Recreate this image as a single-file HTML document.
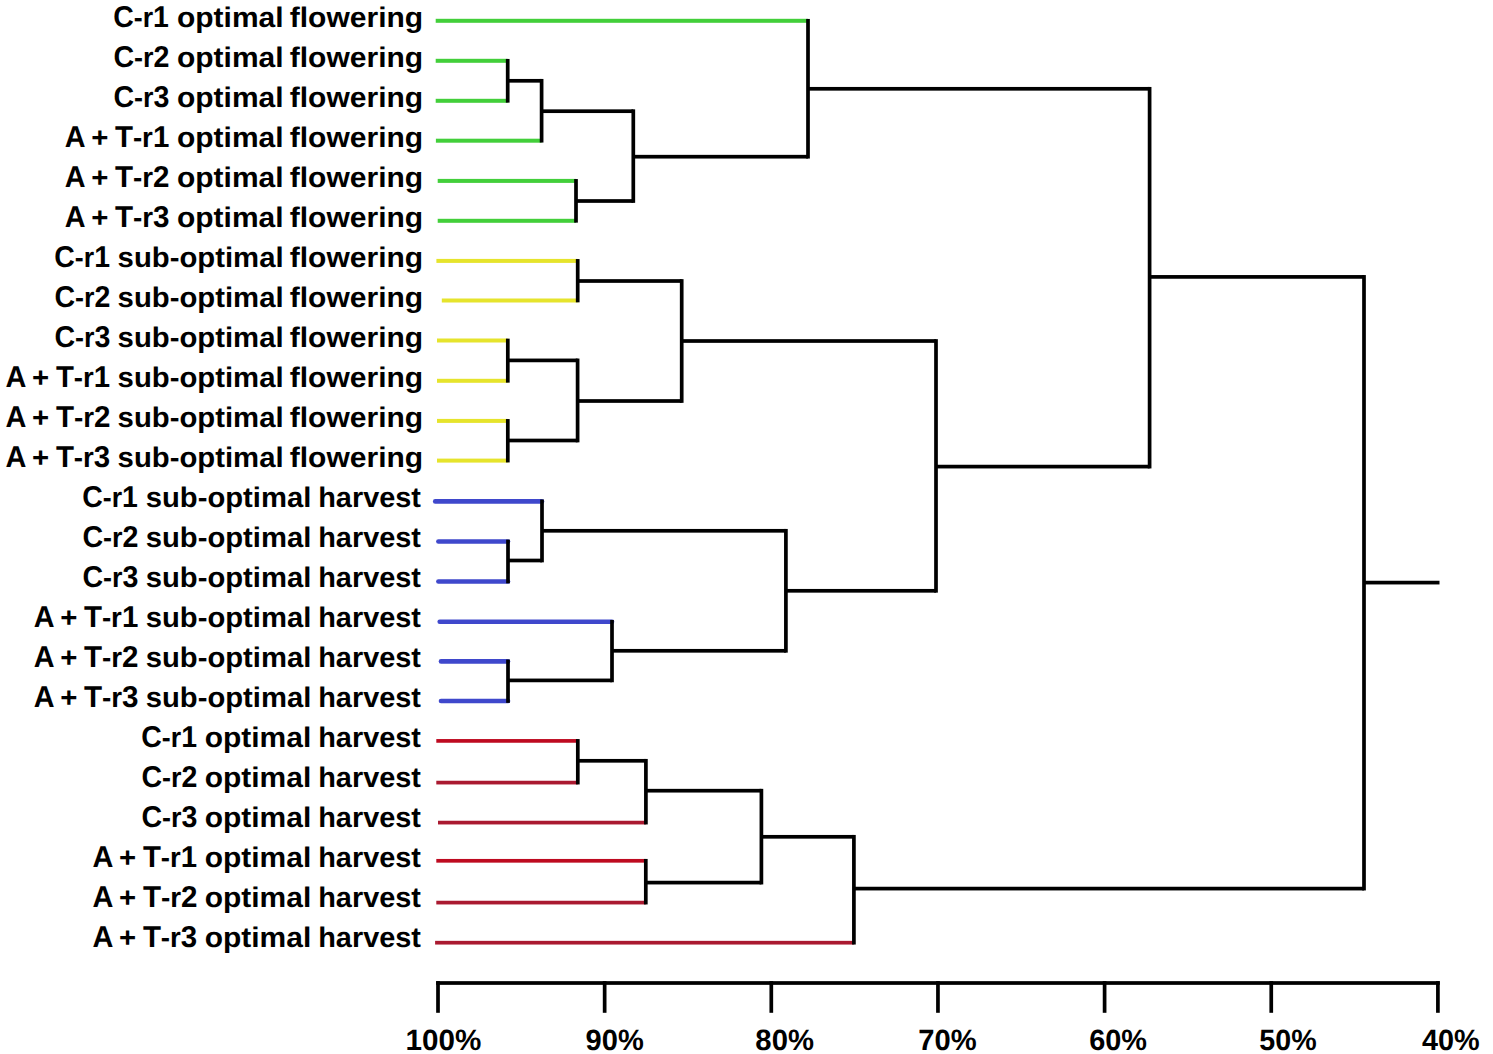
<!DOCTYPE html>
<html><head><meta charset="utf-8"><style>
html,body{margin:0;padding:0;background:#fff;}
body{width:1493px;height:1054px;overflow:hidden;position:relative;}
svg{position:absolute;left:0;top:0;}
text{font-family:"Liberation Sans",sans-serif;font-weight:bold;font-size:28.3px;fill:#000;}
text.ax{font-size:29.3px;}
.c{font-size:30.1px;}
text{text-rendering:geometricPrecision;}
</style></head><body>
<svg width="1493" height="1054" viewBox="0 0 1493 1054">
<g shape-rendering="auto">
<rect x="435.70" y="18.80" width="372.30" height="4.00" fill="#42cf3a"/>
<rect x="435.70" y="58.80" width="72.00" height="4.00" fill="#42cf3a"/>
<rect x="435.70" y="98.80" width="72.00" height="4.00" fill="#42cf3a"/>
<rect x="435.90" y="138.70" width="105.70" height="4.00" fill="#42cf3a"/>
<rect x="437.70" y="178.90" width="138.30" height="4.00" fill="#42cf3a"/>
<rect x="437.70" y="218.80" width="138.30" height="4.00" fill="#42cf3a"/>
<rect x="436.40" y="258.90" width="141.30" height="4.00" fill="#e6e42c"/>
<rect x="441.80" y="298.50" width="135.90" height="4.00" fill="#e6e42c"/>
<rect x="437.00" y="338.50" width="70.80" height="4.00" fill="#e6e42c"/>
<rect x="437.00" y="378.80" width="70.80" height="4.00" fill="#e6e42c"/>
<rect x="437.00" y="418.90" width="70.80" height="4.00" fill="#e6e42c"/>
<rect x="437.00" y="458.60" width="70.80" height="4.00" fill="#e6e42c"/>
<line x1="435.20" y1="501.40" x2="542.00" y2="501.40" stroke="#3f48cc" stroke-width="4.6" stroke-linecap="round"/>
<line x1="438.40" y1="541.50" x2="508.00" y2="541.50" stroke="#3f48cc" stroke-width="4.6" stroke-linecap="round"/>
<line x1="438.40" y1="581.50" x2="508.00" y2="581.50" stroke="#3f48cc" stroke-width="4.6" stroke-linecap="round"/>
<line x1="439.70" y1="621.80" x2="612.00" y2="621.80" stroke="#3f48cc" stroke-width="4.6" stroke-linecap="round"/>
<line x1="441.00" y1="661.40" x2="508.00" y2="661.40" stroke="#3f48cc" stroke-width="4.6" stroke-linecap="round"/>
<line x1="441.00" y1="701.00" x2="508.00" y2="701.00" stroke="#3f48cc" stroke-width="4.6" stroke-linecap="round"/>
<rect x="436.30" y="739.05" width="141.50" height="3.70" fill="#be0a20"/>
<rect x="436.30" y="780.75" width="141.50" height="3.70" fill="#aa1a30"/>
<rect x="438.00" y="820.75" width="207.90" height="3.70" fill="#aa1a30"/>
<rect x="436.30" y="858.95" width="209.50" height="3.70" fill="#be0a20"/>
<rect x="436.30" y="900.75" width="209.50" height="3.70" fill="#aa1a30"/>
<rect x="435.10" y="940.85" width="418.80" height="3.70" fill="#aa1a30"/>
<rect x="505.85" y="58.95" width="3.70" height="43.70" fill="#000"/>
<rect x="507.70" y="78.95" width="33.90" height="3.70" fill="#000"/>
<rect x="539.75" y="78.95" width="3.70" height="63.60" fill="#000"/>
<rect x="541.60" y="109.35" width="91.70" height="3.70" fill="#000"/>
<rect x="574.15" y="179.05" width="3.70" height="43.60" fill="#000"/>
<rect x="576.00" y="199.15" width="57.30" height="3.70" fill="#000"/>
<rect x="631.45" y="109.35" width="3.70" height="93.50" fill="#000"/>
<rect x="633.30" y="154.85" width="174.70" height="3.70" fill="#000"/>
<rect x="806.15" y="18.95" width="3.70" height="139.60" fill="#000"/>
<rect x="808.00" y="86.95" width="341.60" height="3.70" fill="#000"/>
<rect x="575.85" y="259.05" width="3.70" height="43.30" fill="#000"/>
<rect x="577.70" y="279.15" width="104.00" height="3.70" fill="#000"/>
<rect x="505.95" y="338.65" width="3.70" height="44.00" fill="#000"/>
<rect x="507.80" y="358.55" width="69.80" height="3.70" fill="#000"/>
<rect x="505.95" y="419.05" width="3.70" height="43.40" fill="#000"/>
<rect x="507.80" y="438.65" width="69.80" height="3.70" fill="#000"/>
<rect x="575.75" y="358.55" width="3.70" height="83.80" fill="#000"/>
<rect x="577.60" y="399.15" width="104.10" height="3.70" fill="#000"/>
<rect x="679.85" y="279.15" width="3.70" height="123.70" fill="#000"/>
<rect x="681.70" y="339.15" width="254.30" height="3.70" fill="#000"/>
<rect x="506.15" y="539.65" width="3.70" height="43.70" fill="#000"/>
<rect x="508.00" y="558.65" width="34.00" height="3.70" fill="#000"/>
<rect x="540.15" y="499.55" width="3.70" height="62.80" fill="#000"/>
<rect x="542.00" y="528.95" width="243.90" height="3.70" fill="#000"/>
<rect x="506.15" y="659.55" width="3.70" height="43.30" fill="#000"/>
<rect x="508.00" y="678.55" width="104.00" height="3.70" fill="#000"/>
<rect x="610.15" y="619.95" width="3.70" height="62.30" fill="#000"/>
<rect x="612.00" y="648.95" width="173.90" height="3.70" fill="#000"/>
<rect x="784.05" y="528.95" width="3.70" height="123.70" fill="#000"/>
<rect x="785.90" y="588.95" width="150.10" height="3.70" fill="#000"/>
<rect x="934.15" y="339.15" width="3.70" height="253.50" fill="#000"/>
<rect x="936.00" y="464.75" width="213.60" height="3.70" fill="#000"/>
<rect x="1147.75" y="86.95" width="3.70" height="381.50" fill="#000"/>
<rect x="1149.60" y="275.05" width="214.40" height="3.70" fill="#000"/>
<rect x="575.95" y="739.05" width="3.70" height="45.40" fill="#000"/>
<rect x="577.80" y="758.95" width="68.10" height="3.70" fill="#000"/>
<rect x="644.05" y="758.95" width="3.70" height="65.50" fill="#000"/>
<rect x="645.90" y="788.85" width="115.50" height="3.70" fill="#000"/>
<rect x="643.95" y="858.95" width="3.70" height="45.50" fill="#000"/>
<rect x="645.80" y="880.75" width="115.60" height="3.70" fill="#000"/>
<rect x="759.55" y="788.85" width="3.70" height="95.60" fill="#000"/>
<rect x="761.40" y="834.95" width="92.50" height="3.70" fill="#000"/>
<rect x="852.05" y="834.95" width="3.70" height="109.60" fill="#000"/>
<rect x="853.90" y="886.75" width="510.10" height="3.70" fill="#000"/>
<rect x="1362.15" y="275.05" width="3.70" height="615.40" fill="#000"/>
<rect x="1364.00" y="580.75" width="75.50" height="3.70" fill="#000"/>
<rect x="436.15" y="981.15" width="1003.60" height="3.70" fill="#000"/>
<rect x="436.15" y="981.15" width="3.70" height="31.65" fill="#000"/>
<rect x="602.80" y="981.15" width="3.70" height="31.65" fill="#000"/>
<rect x="769.45" y="981.15" width="3.70" height="31.65" fill="#000"/>
<rect x="936.10" y="981.15" width="3.70" height="31.65" fill="#000"/>
<rect x="1102.75" y="981.15" width="3.70" height="31.65" fill="#000"/>
<rect x="1269.40" y="981.15" width="3.70" height="31.65" fill="#000"/>
<rect x="1436.05" y="981.15" width="3.70" height="31.65" fill="#000"/>
</g>
<g>
<text x="113.26" y="27.00" textLength="55.66" lengthAdjust="spacingAndGlyphs"><tspan class="c">C</tspan>-r<tspan class="c">1</tspan></text>
<text x="176.93" y="27.00" textLength="106.64" lengthAdjust="spacingAndGlyphs">optimal</text>
<text x="289.78" y="27.00" textLength="133.36" lengthAdjust="spacingAndGlyphs">flowering</text>
<text x="113.40" y="67.00" textLength="56.03" lengthAdjust="spacingAndGlyphs"><tspan class="c">C</tspan>-r<tspan class="c">2</tspan></text>
<text x="176.93" y="67.00" textLength="106.64" lengthAdjust="spacingAndGlyphs">optimal</text>
<text x="289.78" y="67.00" textLength="133.36" lengthAdjust="spacingAndGlyphs">flowering</text>
<text x="113.44" y="107.00" textLength="55.95" lengthAdjust="spacingAndGlyphs"><tspan class="c">C</tspan>-r<tspan class="c">3</tspan></text>
<text x="176.93" y="107.00" textLength="106.64" lengthAdjust="spacingAndGlyphs">optimal</text>
<text x="289.78" y="107.00" textLength="133.36" lengthAdjust="spacingAndGlyphs">flowering</text>
<text x="64.73" y="147.00" textLength="20.81" lengthAdjust="spacingAndGlyphs"><tspan class="c">A</tspan></text>
<text x="91.34" y="147.00" textLength="17.14" lengthAdjust="spacingAndGlyphs">+</text>
<text x="114.91" y="147.00" textLength="54.36" lengthAdjust="spacingAndGlyphs"><tspan class="c">T</tspan>-r<tspan class="c">1</tspan></text>
<text x="176.93" y="147.00" textLength="106.64" lengthAdjust="spacingAndGlyphs">optimal</text>
<text x="289.78" y="147.00" textLength="133.36" lengthAdjust="spacingAndGlyphs">flowering</text>
<text x="64.73" y="187.00" textLength="20.81" lengthAdjust="spacingAndGlyphs"><tspan class="c">A</tspan></text>
<text x="91.34" y="187.00" textLength="17.14" lengthAdjust="spacingAndGlyphs">+</text>
<text x="114.88" y="187.00" textLength="54.54" lengthAdjust="spacingAndGlyphs"><tspan class="c">T</tspan>-r<tspan class="c">2</tspan></text>
<text x="176.93" y="187.00" textLength="106.64" lengthAdjust="spacingAndGlyphs">optimal</text>
<text x="289.78" y="187.00" textLength="133.36" lengthAdjust="spacingAndGlyphs">flowering</text>
<text x="64.73" y="227.00" textLength="20.81" lengthAdjust="spacingAndGlyphs"><tspan class="c">A</tspan></text>
<text x="91.34" y="227.00" textLength="17.14" lengthAdjust="spacingAndGlyphs">+</text>
<text x="114.88" y="227.00" textLength="54.68" lengthAdjust="spacingAndGlyphs"><tspan class="c">T</tspan>-r<tspan class="c">3</tspan></text>
<text x="176.93" y="227.00" textLength="106.64" lengthAdjust="spacingAndGlyphs">optimal</text>
<text x="289.78" y="227.00" textLength="133.36" lengthAdjust="spacingAndGlyphs">flowering</text>
<text x="54.32" y="267.00" textLength="55.65" lengthAdjust="spacingAndGlyphs"><tspan class="c">C</tspan>-r<tspan class="c">1</tspan></text>
<text x="117.61" y="267.00" textLength="165.96" lengthAdjust="spacingAndGlyphs">sub-optimal</text>
<text x="289.78" y="267.00" textLength="133.36" lengthAdjust="spacingAndGlyphs">flowering</text>
<text x="54.44" y="307.00" textLength="55.85" lengthAdjust="spacingAndGlyphs"><tspan class="c">C</tspan>-r<tspan class="c">2</tspan></text>
<text x="117.61" y="307.00" textLength="165.96" lengthAdjust="spacingAndGlyphs">sub-optimal</text>
<text x="289.78" y="307.00" textLength="133.36" lengthAdjust="spacingAndGlyphs">flowering</text>
<text x="54.41" y="347.00" textLength="55.95" lengthAdjust="spacingAndGlyphs"><tspan class="c">C</tspan>-r<tspan class="c">3</tspan></text>
<text x="117.61" y="347.00" textLength="165.96" lengthAdjust="spacingAndGlyphs">sub-optimal</text>
<text x="289.78" y="347.00" textLength="133.36" lengthAdjust="spacingAndGlyphs">flowering</text>
<text x="5.55" y="387.00" textLength="20.89" lengthAdjust="spacingAndGlyphs"><tspan class="c">A</tspan></text>
<text x="32.14" y="387.00" textLength="17.11" lengthAdjust="spacingAndGlyphs">+</text>
<text x="55.88" y="387.00" textLength="54.19" lengthAdjust="spacingAndGlyphs"><tspan class="c">T</tspan>-r<tspan class="c">1</tspan></text>
<text x="117.61" y="387.00" textLength="165.96" lengthAdjust="spacingAndGlyphs">sub-optimal</text>
<text x="289.78" y="387.00" textLength="133.36" lengthAdjust="spacingAndGlyphs">flowering</text>
<text x="5.55" y="427.00" textLength="20.89" lengthAdjust="spacingAndGlyphs"><tspan class="c">A</tspan></text>
<text x="32.14" y="427.00" textLength="17.11" lengthAdjust="spacingAndGlyphs">+</text>
<text x="55.88" y="427.00" textLength="54.61" lengthAdjust="spacingAndGlyphs"><tspan class="c">T</tspan>-r<tspan class="c">2</tspan></text>
<text x="117.61" y="427.00" textLength="165.96" lengthAdjust="spacingAndGlyphs">sub-optimal</text>
<text x="289.78" y="427.00" textLength="133.36" lengthAdjust="spacingAndGlyphs">flowering</text>
<text x="5.55" y="467.00" textLength="20.89" lengthAdjust="spacingAndGlyphs"><tspan class="c">A</tspan></text>
<text x="32.14" y="467.00" textLength="17.11" lengthAdjust="spacingAndGlyphs">+</text>
<text x="55.88" y="467.00" textLength="54.38" lengthAdjust="spacingAndGlyphs"><tspan class="c">T</tspan>-r<tspan class="c">3</tspan></text>
<text x="117.61" y="467.00" textLength="165.96" lengthAdjust="spacingAndGlyphs">sub-optimal</text>
<text x="289.78" y="467.00" textLength="133.36" lengthAdjust="spacingAndGlyphs">flowering</text>
<text x="82.26" y="507.00" textLength="55.66" lengthAdjust="spacingAndGlyphs"><tspan class="c">C</tspan>-r<tspan class="c">1</tspan></text>
<text x="145.74" y="507.00" textLength="165.58" lengthAdjust="spacingAndGlyphs">sub-optimal</text>
<text x="318.20" y="507.00" textLength="102.75" lengthAdjust="spacingAndGlyphs">harvest</text>
<text x="82.40" y="547.00" textLength="56.03" lengthAdjust="spacingAndGlyphs"><tspan class="c">C</tspan>-r<tspan class="c">2</tspan></text>
<text x="145.74" y="547.00" textLength="165.58" lengthAdjust="spacingAndGlyphs">sub-optimal</text>
<text x="318.20" y="547.00" textLength="102.75" lengthAdjust="spacingAndGlyphs">harvest</text>
<text x="82.44" y="587.00" textLength="55.95" lengthAdjust="spacingAndGlyphs"><tspan class="c">C</tspan>-r<tspan class="c">3</tspan></text>
<text x="145.74" y="587.00" textLength="165.58" lengthAdjust="spacingAndGlyphs">sub-optimal</text>
<text x="318.20" y="587.00" textLength="102.75" lengthAdjust="spacingAndGlyphs">harvest</text>
<text x="33.73" y="627.00" textLength="20.81" lengthAdjust="spacingAndGlyphs"><tspan class="c">A</tspan></text>
<text x="60.34" y="627.00" textLength="17.14" lengthAdjust="spacingAndGlyphs">+</text>
<text x="83.91" y="627.00" textLength="54.36" lengthAdjust="spacingAndGlyphs"><tspan class="c">T</tspan>-r<tspan class="c">1</tspan></text>
<text x="145.74" y="627.00" textLength="165.58" lengthAdjust="spacingAndGlyphs">sub-optimal</text>
<text x="318.20" y="627.00" textLength="102.75" lengthAdjust="spacingAndGlyphs">harvest</text>
<text x="33.73" y="667.00" textLength="20.81" lengthAdjust="spacingAndGlyphs"><tspan class="c">A</tspan></text>
<text x="60.34" y="667.00" textLength="17.14" lengthAdjust="spacingAndGlyphs">+</text>
<text x="83.88" y="667.00" textLength="54.54" lengthAdjust="spacingAndGlyphs"><tspan class="c">T</tspan>-r<tspan class="c">2</tspan></text>
<text x="145.74" y="667.00" textLength="165.58" lengthAdjust="spacingAndGlyphs">sub-optimal</text>
<text x="318.20" y="667.00" textLength="102.75" lengthAdjust="spacingAndGlyphs">harvest</text>
<text x="33.73" y="707.00" textLength="20.81" lengthAdjust="spacingAndGlyphs"><tspan class="c">A</tspan></text>
<text x="60.34" y="707.00" textLength="17.14" lengthAdjust="spacingAndGlyphs">+</text>
<text x="83.88" y="707.00" textLength="54.68" lengthAdjust="spacingAndGlyphs"><tspan class="c">T</tspan>-r<tspan class="c">3</tspan></text>
<text x="145.74" y="707.00" textLength="165.58" lengthAdjust="spacingAndGlyphs">sub-optimal</text>
<text x="318.20" y="707.00" textLength="102.75" lengthAdjust="spacingAndGlyphs">harvest</text>
<text x="141.32" y="747.00" textLength="55.65" lengthAdjust="spacingAndGlyphs"><tspan class="c">C</tspan>-r<tspan class="c">1</tspan></text>
<text x="204.69" y="747.00" textLength="106.53" lengthAdjust="spacingAndGlyphs">optimal</text>
<text x="318.20" y="747.00" textLength="102.75" lengthAdjust="spacingAndGlyphs">harvest</text>
<text x="141.44" y="787.00" textLength="55.85" lengthAdjust="spacingAndGlyphs"><tspan class="c">C</tspan>-r<tspan class="c">2</tspan></text>
<text x="204.69" y="787.00" textLength="106.53" lengthAdjust="spacingAndGlyphs">optimal</text>
<text x="318.20" y="787.00" textLength="102.75" lengthAdjust="spacingAndGlyphs">harvest</text>
<text x="141.41" y="827.00" textLength="55.95" lengthAdjust="spacingAndGlyphs"><tspan class="c">C</tspan>-r<tspan class="c">3</tspan></text>
<text x="204.69" y="827.00" textLength="106.53" lengthAdjust="spacingAndGlyphs">optimal</text>
<text x="318.20" y="827.00" textLength="102.75" lengthAdjust="spacingAndGlyphs">harvest</text>
<text x="92.55" y="867.00" textLength="20.89" lengthAdjust="spacingAndGlyphs"><tspan class="c">A</tspan></text>
<text x="119.14" y="867.00" textLength="17.11" lengthAdjust="spacingAndGlyphs">+</text>
<text x="142.88" y="867.00" textLength="54.19" lengthAdjust="spacingAndGlyphs"><tspan class="c">T</tspan>-r<tspan class="c">1</tspan></text>
<text x="204.69" y="867.00" textLength="106.53" lengthAdjust="spacingAndGlyphs">optimal</text>
<text x="318.20" y="867.00" textLength="102.75" lengthAdjust="spacingAndGlyphs">harvest</text>
<text x="92.55" y="907.00" textLength="20.89" lengthAdjust="spacingAndGlyphs"><tspan class="c">A</tspan></text>
<text x="119.14" y="907.00" textLength="17.11" lengthAdjust="spacingAndGlyphs">+</text>
<text x="142.88" y="907.00" textLength="54.61" lengthAdjust="spacingAndGlyphs"><tspan class="c">T</tspan>-r<tspan class="c">2</tspan></text>
<text x="204.69" y="907.00" textLength="106.53" lengthAdjust="spacingAndGlyphs">optimal</text>
<text x="318.20" y="907.00" textLength="102.75" lengthAdjust="spacingAndGlyphs">harvest</text>
<text x="92.55" y="947.00" textLength="20.89" lengthAdjust="spacingAndGlyphs"><tspan class="c">A</tspan></text>
<text x="119.14" y="947.00" textLength="17.11" lengthAdjust="spacingAndGlyphs">+</text>
<text x="142.88" y="947.00" textLength="54.38" lengthAdjust="spacingAndGlyphs"><tspan class="c">T</tspan>-r<tspan class="c">3</tspan></text>
<text x="204.69" y="947.00" textLength="106.53" lengthAdjust="spacingAndGlyphs">optimal</text>
<text x="318.20" y="947.00" textLength="102.75" lengthAdjust="spacingAndGlyphs">harvest</text>
<text class="ax" x="405.55" y="1049.8" textLength="75.72" lengthAdjust="spacingAndGlyphs">100%</text>
<text class="ax" x="585.60" y="1049.8" textLength="58.14" lengthAdjust="spacingAndGlyphs">90%</text>
<text class="ax" x="755.36" y="1049.8" textLength="58.55" lengthAdjust="spacingAndGlyphs">80%</text>
<text class="ax" x="918.33" y="1049.8" textLength="58.37" lengthAdjust="spacingAndGlyphs">70%</text>
<text class="ax" x="1089.13" y="1049.8" textLength="57.77" lengthAdjust="spacingAndGlyphs">60%</text>
<text class="ax" x="1259.36" y="1049.8" textLength="57.25" lengthAdjust="spacingAndGlyphs">50%</text>
<text class="ax" x="1421.96" y="1049.8" textLength="57.69" lengthAdjust="spacingAndGlyphs">40%</text>
</g>
</svg>
</body></html>
